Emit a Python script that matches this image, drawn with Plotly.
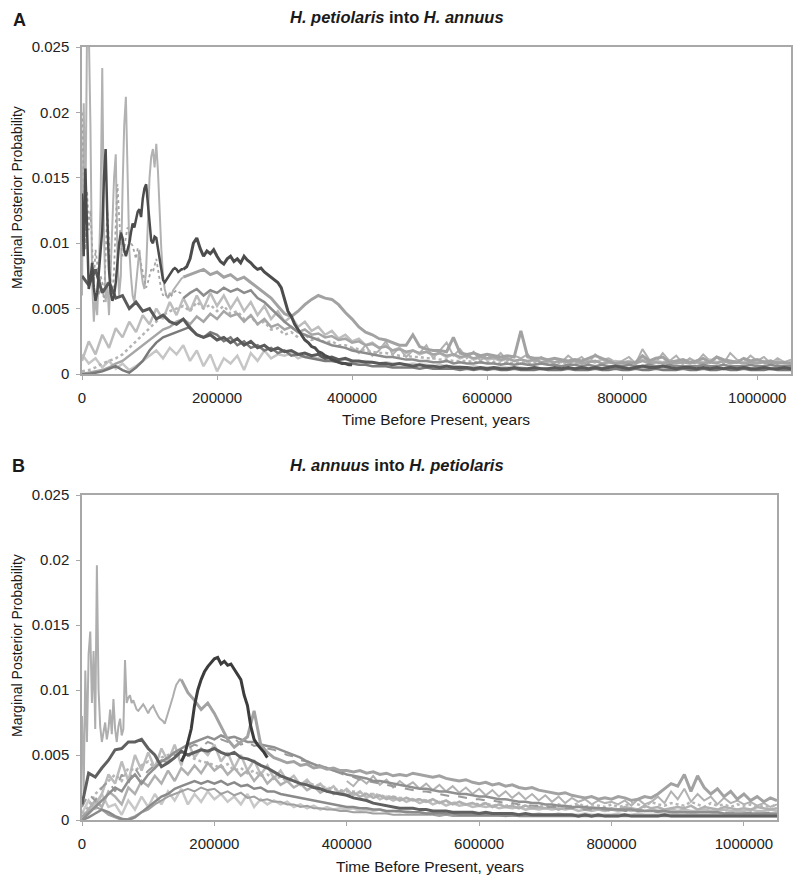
import plotly.graph_objects as go

# ---------------- x grids (years before present) ----------------
X_FINE = list(range(0, 150001, 2500))          # 61 points, early spiky section
X_COARSE = list(range(0, 1050001, 10000))      # 106 points, full range
X_HUMP_A = list(range(150000, 400001, 5000))   # 51 points
X_HUMP_B = list(range(150000, 280001, 5000))   # 27 points

X_TICKS = [0, 200000, 400000, 600000, 800000, 1000000]
X_TICK_TEXT = ["0", "200000", "400000", "600000", "800000", "1000000"]
Y_TICKS = [0, 0.005, 0.01, 0.015, 0.02, 0.025]
Y_TICK_TEXT = ["0", "0.005", "0.01", "0.015", "0.02", "0.025"]

N = None
# ---------------- Panel A: H. petiolaris into H. annuus (values x 1e-4) ----------------
A_SPIKE_LIGHT = [
    60, 207, 120, 265, 265, 190, 70, 40, 60, 45,
    80, 130, 234, 110, 55, 70, 45, 80, 110, 150,
    168, 90, 60, 75, 140, 190, 212, 160, 95, 75,
    60, 55, 70, 85, 95, 80, 70, 65, 80, 115,
    150, 166, 172, 158, 176, 155, 120, 95, 75, 65,
    60, 58, 62, 60, 64, 66, 68, 70, 72, 73,
    74]
A_SPIKE_MID = [
    200, 150, 95, 140, 110, 125, 90, 70, 95, 85,
    60, 75, 70, 55, 90, 125, 100, 70, 60, 80,
    115, 145, 120, 100, 90, 95, 105, 112, 108, 100,
    98, 92, 88, 96, 92, 84, 78, 72, 66, 70,
    76, 80, 78, 84, 88, 80, 70, 64, 60, 62,
    60, 58, 62, 60, 62, 63, 64, 63, 62, 62,
    62]
A_SPIKE_DARK = [
    138, 90, 157, 110, 65, 72, 85, 66, 56, 62,
    80, 98, 110, 150, 172, 120, 80, 62, 56, 60,
    70, 85, 100, 108, 104, 95, 90, 95, 100, 108,
    115, 112, 118, 124, 126, 120, 134, 142, 145, 130,
    112, 102, 100, 105, 104, 96, 88, 80, 72, 70,
    72, 74, 76, 78, 80, 81, 80, 78, 79, 80,
    80]
A_DARK_HUMP = [
    80, 82, 88, 100, 104, 96, 90, 94, 92, 95,
    90, 86, 84, 88, 90, 86, 88, 85, 90, 87,
    85, 82, 80, 81, 78, 76, 74, 72, 70, 66,
    56, 48, 44, 38, 34, 30, 26, 24, 21, 20,
    17, 16, 14, 13, 11, 10, 9, 8, 8, 7,
    7]
A_DARK_MAIN = [
    75, 68, 80, 62, 70, 58, 60, 50, 55, 48,
    50, 42, 45, 40, 38, 42, 35, 30, 28, 30,
    26, 28, 24, 27, 22, 25, 20, 22, 18, 20,
    17, 18, 15, 16, 14, 15, 12, 13, 11, 12,
    10, 10, 9, 9, 8, 8, 7, 8, 7, 6,
    7, 6, 6, 5, 6, 5, 5, 5, 4, 5,
    4, 5, 4, 4, 5, 4, 4, 5, 4, 4,
    5, 4, 5, 4, 5, 4, 5, 4, 5, 6,
    5, 4, 5, 6, 5, 5, 6, 5, 4, 5,
    5, 4, 5, 4, 5, 4, 5, 4, 5, 4,
    4, 5, 4, 4, 5, 4]
A_LIGHT_HUMP = [
    N, N, N, N, N, N, N, N, N, N,
    N, N, N, N, N, 74, 76, 78, 80, 76,
    78, 74, 76, 72, 74, 70, 66, 62, 58, 52,
    46, 44, 48, 53, 57, 60, 58, 57, 53, 47,
    42, 36, 32, 30, 27, 26, 24, 22, 22, 30,
    21, 19, 18, 18, 17, 28, 16, 15, 16, 14,
    15, 14, 13, 14, 13, 33, 13, 12, 12, 11,
    12, 11, 10, 11, 10, 12, 14, 12, 10, 8,
    9, 8, 9, 14, 10, 12, 13, 9, 10, 11,
    9, 10, 12, 9, 13, 11, 10, 9, 12, 10,
    11, 9, 10, 8, 9, 8]
A_MID = [
    N, N, N, N, N, N, N, N, N, N,
    N, N, N, N, N, 58, 62, 65, 60, 64,
    62, 66, 63, 65, 62, 64, 58, 55, 50, 45,
    40, 36, 32, 30, 28, 26, 24, 22, 21, 20,
    18, 17, 16, 15, 14, 13, 13, 12, 11, 11,
    10, 10, 9, 9, 10, 8, 9, 8, 8, 9,
    8, 8, 7, 8, 7, 8, 7, 7, 8, 7,
    7, 6, 7, 7, 6, 7, 6, 7, 6, 6,
    6, 7, 6, 6, 7, 6, 6, 7, 6, 6,
    6, 6, 7, 6, 6, 7, 6, 6, 6, 7,
    6, 6, 7, 6, 6, 6]
A_LIGHT_DOT = [
    2, 3, 5, 8, 10, 12, 15, 20, 25, 30,
    35, 40, 45, 48, 50, 52, 48, 55, 50, 53,
    48, 52, 46, 48, 42, 44, 38, 40, 34, 35,
    30, 32, 28, 30, 26, 27, 24, 25, 22, 22,
    20, 19, 18, 17, 16, 16, 15, 14, 14, 13,
    13, 12, 12, 11, 11, 10, 10, 10, 9, 9,
    9, 9, 8, 9, 8, 9, 8, 8, 9, 8,
    8, 9, 8, 8, 9, 10, 9, 8, 9, 8,
    8, 9, 8, 10, 9, 8, 9, 10, 9, 8,
    9, 8, 9, 10, 9, 8, 9, 9, 8, 9,
    9, 8, 9, 8, 9, 8]
A_BAND = [
    0, 1, 2, 3, 5, 8, 10, 14, 18, 22,
    26, 30, 34, 36, 40, 42, 38, 44, 40, 46,
    42, 48, 44, 46, 40, 45, 38, 42, 36, 38,
    34, 36, 32, 34, 30, 31, 28, 29, 26, 27,
    24, 25, 22, 23, 20, 21, 18, 19, 17, 18,
    16, 17, 15, 16, 14, 15, 13, 14, 12, 13,
    12, 13, 11, 12, 10, 11, 10, 11, 9, 10,
    9, 10, 9, 10, 8, 9, 10, 8, 9, 8,
    8, 9, 8, 10, 8, 9, 8, 9, 8, 9,
    8, 9, 8, 9, 8, 10, 8, 9, 8, 9,
    8, 9, 8, 9, 8, 8]
A_BAND2 = [
    10, 25, 15, 30, 20, 35, 28, 40, 32, 45,
    38, 50, 42, 55, 45, 58, 48, 60, 50, 62,
    52, 60, 50, 58, 48, 55, 45, 52, 42, 48,
    40, 44, 36, 40, 33, 36, 30, 33, 27, 30,
    25, 27, 22, 24, 20, 22, 18, 20, 16, 18,
    15, 17, 14, 16, 13, 15, 12, 14, 11, 13,
    11, 12, 10, 12, 10, 11, 9, 11, 9, 10,
    9, 10, 9, 10, 8, 10, 9, 11, 9, 10,
    9, 10, 9, 11, 9, 10, 9, 10, 9, 10,
    9, 10, 9, 11, 9, 10, 9, 10, 9, 10,
    9, 10, 9, 10, 9, 9]
A_TAIL = [
    N, N, N, N, N, N, N, N, N, N,
    N, N, N, N, N, N, N, N, N, N,
    N, N, N, N, N, N, N, N, N, N,
    N, N, N, N, N, N, N, N, N, N,
    20, 16, 22, 14, 18, 25, 15, 20, 13, 18,
    16, 22, 12, 18, 24, 14, 19, 12, 17, 10,
    15, 11, 16, 10, 14, 12, 15, 9, 13, 10,
    12, 9, 14, 10, 13, 8, 15, 11, 12, 9,
    10, 13, 8, 19, 11, 9, 16, 10, 14, 8,
    12, 9, 15, 10, 13, 8, 16, 11, 9, 14,
    10, 13, 8, 12, 9, 11]
A_MID_LOW = [
    0, 0, 1, 2, 4, 6, 3, 1, 5, 10,
    18, 24, 28, 30, 32, 34, 36, 30, 28, 32,
    30, 25, 28, 22, 25, 20, 22, 18, 20, 16,
    18, 14, 15, 13, 12, 11, 10, 10, 9, 8,
    8, 7, 7, 6, 6, 6, 5, 5, 5, 5,
    4, 5, 4, 4, 4, 4, 3, 4, 3, 4,
    3, 4, 3, 3, 4, 3, 3, 3, 4, 3,
    3, 3, 4, 3, 3, 3, 4, 3, 3, 4,
    3, 3, 4, 3, 3, 4, 3, 3, 3, 4,
    3, 3, 4, 3, 3, 4, 3, 3, 4, 3,
    3, 3, 4, 3, 3, 3]
A_LIGHT_LOW = [
    15, 8, 12, 5, 10, 4, 8, 3, 6, 10,
    14, 18, 12, 20, 15, 22, 10, 18, 6, 15,
    2, 12, 8, 14, 3, 16, 10, 18, 12, 15,
    14, 16, 12, 14, 13, 12, 12, 11, 10, 11,
    10, 9, 10, 9, 8, 9, 8, 8, 7, 8,
    7, 7, 6, 7, 6, 6, 6, 5, 6, 5,
    5, 5, 5, 5, 4, 5, 4, 5, 4, 4,
    4, 4, 5, 4, 4, 4, 5, 4, 4, 4,
    4, 4, 4, 5, 4, 4, 4, 4, 5, 4,
    4, 4, 5, 4, 4, 4, 4, 5, 4, 4,
    4, 4, 4, 5, 4, 4]

# ---------------- Panel B: H. annuus into H. petiolaris (values x 1e-4) ----------------
B_SPIKE_LIGHT = [
    80, 20, 115, 60, 128, 145, 90, 130, 70, 196,
    100, 72, 60, 68, 75, 62, 70, 85, 66, 93,
    70, 60, 72, 78, 65, 70, 123, 90, 94, 96,
    90, 92, 88, 85, 84, 86, 88, 89, 87, 84,
    82, 85, 87, 88, 85, 82, 80, 78, 77, 76,
    74, 78, 82, 86, 90, 95, 100, 104, 106, 108,
    108]
B_LIGHT_HUMP = [
    N, N, N, N, N, N, N, N, N, N,
    N, N, N, N, N, 108, 98, 92, 85, 90,
    82, 72, 62, 56, 60, 64, 84, 58, 52, 48,
    46, 44, 45, 42, 43, 40, 41, 39, 40, 38,
    38, 37, 38, 36, 37, 35, 36, 34, 35, 34,
    36, 35, 34, 33, 34, 32, 31, 30, 31, 29,
    28, 29, 27, 28, 26, 27, 25, 24, 25, 23,
    22, 21, 20, 21, 19, 18, 17, 18, 16, 17,
    16, 18, 17, 15, 16, 18, 17, 20, 24, 28,
    26, 35, 22, 34, 25, 20, 24, 18, 22, 16,
    20, 15, 18, 14, 17, 15]
B_DARK_HUMP = [
    45, 50, 60, 70, 88, 100, 108, 114, 118, 121,
    124, 125, 120, 122, 119, 120, 116, 112, 108, 96,
    88, 72, 62, 58, 55, 52, 48]
B_DARK_MAIN = [
    12, 36, 33, 40, 46, 54, 55, 60, 60, 62,
    55, 50, 41, 44, 48, 53, 50, 52, 54, 53,
    55, 52, 50, 52, 48, 47, 45, 42, 40, 37,
    34, 32, 30, 28, 27, 25, 24, 22, 21, 20,
    19, 17, 16, 15, 13, 12, 11, 10, 9, 9,
    9, 8, 8, 7, 7, 7, 6, 6, 6, 6,
    5, 6, 5, 5, 5, 5, 4, 5, 4, 4,
    4, 4, 4, 4, 4, 3, 4, 3, 4, 3,
    3, 3, 4, 3, 3, 3, 3, 3, 4, 3,
    3, 3, 3, 3, 3, 3, 3, 3, 3, 3,
    3, 3, 3, 3, 3, 3]
B_MID = [
    0, 5, 10, 15, 20, 25, 22, 30, 35, 28,
    35, 40, 45, 48, 52, 55, 58, 60, 62, 64,
    62, 65, 63, 64, 62, 60, 60, 58, 57, 56,
    54, 52, 50, 48, 45, 43, 41, 40, 38, 37,
    35, 34, 33, 32, 30, 30, 29, 28, 27, 26,
    25, 24, 24, 23, 22, 22, 21, 20, 20, 19,
    18, 18, 17, 16, 16, 15, 14, 14, 13, 13,
    12, 12, 11, 11, 10, 10, 10, 9, 9, 9,
    8, 8, 8, 8, 7, 7, 7, 7, 7, 6,
    6, 6, 6, 6, 6, 6, 6, 5, 5, 5,
    5, 5, 5, 5, 5, 5]
B_DASHED = [
    10, 20, 15, 25, 30, 22, 35, 28, 40, 32,
    38, 42, 46, 44, 50, 52, 55, 58, 56, 60,
    58, 62, 60, 63, 58, 60, 57, 58, 55, 54,
    52, 50, 49, 46, 45, 44, 42, 40, 38, 36,
    34, 33, 31, 30, 29, 28, 27, 26, 25, 24,
    23, 22, 22, 21, 20, 19, 18, 18, 17, 16,
    16, 15, 15, 14, 13, 13, 12, 12, 11, 11,
    10, 10, 10, 9, 9, 9, 8, 8, 8, 8,
    7, 8, 7, 7, 8, 7, 7, 6, 7, 6,
    6, 7, 6, 6, 7, 6, 6, 6, 5, 6,
    5, 6, 5, 5, 6, 5]
B_BAND = [
    2, 8, 15, 10, 22, 18, 12, 25, 20, 30,
    26, 34, 28, 38, 30, 40, 35, 42, 36, 44,
    38, 42, 35, 40, 34, 38, 30, 36, 28, 33,
    27, 30, 25, 28, 23, 26, 21, 24, 20, 22,
    19, 21, 18, 20, 17, 19, 16, 18, 15, 17,
    15, 16, 14, 16, 13, 15, 12, 14, 12, 13,
    11, 13, 10, 12, 10, 11, 9, 11, 9, 10,
    9, 10, 8, 10, 9, 11, 8, 10, 9, 8,
    9, 8, 10, 9, 8, 11, 9, 10, 8, 9,
    10, 9, 11, 8, 10, 9, 8, 10, 9, 8,
    9, 8, 10, 9, 8, 9]
B_BAND2 = [
    0, 5, 12, 20, 35, 28, 45, 30, 50, 38,
    52, 40, 55, 45, 58, 42, 60, 48, 55, 50,
    58, 45, 52, 40, 50, 38, 46, 35, 42, 32,
    38, 30, 34, 27, 31, 25, 28, 22, 26, 20,
    24, 19, 22, 17, 20, 16, 18, 15, 17, 14,
    16, 13, 15, 12, 14, 11, 13, 11, 12, 10,
    11, 10, 11, 9, 10, 9, 10, 8, 9, 8,
    9, 8, 9, 8, 9, 7, 8, 7, 8, 7,
    8, 7, 8, 7, 8, 7, 8, 7, 7, 8,
    7, 8, 7, 7, 8, 7, 7, 8, 7, 7,
    7, 8, 7, 7, 8, 7]
B_LOW_HUMP = [
    3, 6, 10, 8, 4, 2, 0, 1, 3, 6,
    8, 12, 15, 18, 20, 22, 24, 22, 25, 23,
    24, 20, 22, 19, 21, 17, 18, 15, 16, 14,
    14, 12, 12, 10, 11, 9, 9, 8, 8, 7,
    7, 6, 6, 6, 5, 5, 5, 4, 4, 4,
    4, 4, 4, 4, 3, 4, 3, 3, 3, 3,
    3, 3, 3, 3, 3, 3, 3, 3, 3, 3,
    3, 3, 3, 3, 3, 3, 3, 3, 3, 3,
    3, 3, 3, 3, 3, 3, 3, 3, 3, 3,
    3, 3, 3, 3, 3, 3, 3, 3, 3, 3,
    3, 3, 3, 3, 3, 3]
B_TAIL = [
    N, N, N, N, N, N, N, N, N, N,
    N, N, N, N, N, N, N, N, N, N,
    N, N, N, N, N, N, N, N, N, N,
    N, N, N, N, N, N, N, N, N, N,
    30, 26, 32, 28, 34, 27, 31, 25, 30, 26,
    29, 24, 28, 23, 27, 22, 26, 21, 25, 20,
    24, 19, 23, 18, 22, 17, 21, 16, 20, 15,
    19, 14, 18, 13, 17, 14, 16, 12, 15, 13,
    14, 12, 15, 11, 16, 12, 14, 18, 13, 22,
    16, 24, 14, 20, 15, 18, 12, 17, 13, 15,
    12, 14, 11, 13, 10, 12]
B_LIGHT = [
    5, 10, 20, 25, 30, 35, 30, 40, 38, 42,
    45, 40, 48, 50, 52, 48, 50, 47, 45, 44,
    42, 40, 43, 38, 40, 36, 38, 34, 35, 32,
    33, 30, 31, 28, 29, 27, 26, 25, 24, 23,
    22, 22, 21, 20, 20, 19, 18, 18, 17, 17,
    16, 16, 15, 15, 14, 14, 13, 14, 12, 13,
    12, 13, 11, 12, 11, 12, 10, 11, 10, 11,
    10, 11, 12, 10, 11, 13, 10, 12, 11, 10,
    12, 10, 11, 13, 12, 10, 14, 12, 11, 13,
    12, 11, 14, 12, 10, 13, 11, 12, 10, 12,
    11, 12, 10, 11, 10, 12]
B_MID_LOW = [
    0, 2, 5, 8, 6, 3, 1, 0, 2, 6,
    10, 14, 18, 20, 24, 26, 28, 30, 28, 30,
    28, 30, 27, 29, 26, 27, 24, 25, 22, 22,
    20, 19, 18, 17, 16, 15, 14, 13, 12, 11,
    10, 10, 9, 9, 8, 8, 7, 7, 7, 6,
    6, 6, 5, 5, 5, 5, 5, 4, 4, 4,
    4, 4, 4, 4, 3, 4, 3, 3, 3, 3,
    3, 3, 3, 3, 3, 3, 3, 3, 3, 3,
    3, 3, 3, 3, 3, 3, 3, 3, 3, 3,
    3, 3, 3, 3, 3, 3, 3, 3, 3, 3,
    3, 3, 3, 3, 3, 3]
B_LIGHT_LOW = [
    5, 15, 8, 20, 10, 12, 4, 15, 8, 18,
    10, 20, 12, 22, 15, 24, 12, 20, 14, 22,
    16, 20, 14, 18, 12, 20, 10, 16, 12, 15,
    12, 14, 10, 12, 9, 11, 8, 10, 8, 9,
    8, 9, 7, 8, 7, 8, 6, 7, 6, 7,
    6, 6, 5, 6, 5, 6, 5, 5, 5, 5,
    5, 5, 4, 5, 4, 5, 4, 4, 4, 5,
    4, 4, 5, 4, 4, 4, 5, 4, 4, 4,
    4, 5, 4, 4, 5, 4, 4, 4, 5, 4,
    4, 4, 5, 4, 4, 4, 5, 4, 4, 4,
    4, 4, 5, 4, 4, 4]


def to_prob(vals):
    return [None if v is None else v / 10000.0 for v in vals]


fig = go.Figure()

panel_a = [
    (A_LIGHT_LOW, X_COARSE, "#c6c6c6", 2.5, "solid"),
    (A_TAIL, X_COARSE, "#b0b0b0", 2.0, "solid"),
    (A_BAND2, X_COARSE, "#bdbdbd", 2.5, "solid"),
    (A_LIGHT_DOT, X_COARSE, "#b4b4b4", 2.5, "dot"),
    (A_BAND, X_COARSE, "#a6a6a6", 2.5, "solid"),
    (A_SPIKE_LIGHT, X_FINE, "#b2b2b2", 2.0, "solid"),
    (A_SPIKE_MID, X_FINE, "#a4a4a4", 1.8, "dot"),
    (A_LIGHT_HUMP, X_COARSE, "#a2a2a2", 3.0, "solid"),
    (A_MID, X_COARSE, "#8c8c8c", 2.5, "solid"),
    (A_MID_LOW, X_COARSE, "#7a7a7a", 2.5, "solid"),
    (A_DARK_MAIN, X_COARSE, "#5a5a5a", 3.0, "solid"),
    (A_SPIKE_DARK, X_FINE, "#4c4c4c", 2.5, "solid"),
    (A_DARK_HUMP, X_HUMP_A, "#4c4c4c", 3.0, "solid"),
]
panel_b = [
    (B_LIGHT_LOW, X_COARSE, "#c8c8c8", 2.5, "solid"),
    (B_TAIL, X_COARSE, "#b2b2b2", 2.0, "solid"),
    (B_BAND2, X_COARSE, "#bcbcbc", 2.5, "solid"),
    (B_LIGHT, X_COARSE, "#b6b6b6", 2.5, "dot"),
    (B_BAND, X_COARSE, "#b0b0b0", 2.5, "solid"),
    (B_LOW_HUMP, X_COARSE, "#a0a0a0", 2.0, "solid"),
    (B_MID_LOW, X_COARSE, "#8a8a8a", 2.5, "solid"),
    (B_DASHED, X_COARSE, "#9a9a9a", 2.0, "dash"),
    (B_MID, X_COARSE, "#909090", 2.5, "solid"),
    (B_SPIKE_LIGHT, X_FINE, "#aeaeae", 2.0, "solid"),
    (B_LIGHT_HUMP, X_COARSE, "#a2a2a2", 3.0, "solid"),
    (B_DARK_MAIN, X_COARSE, "#606060", 3.0, "solid"),
    (B_DARK_HUMP, X_HUMP_B, "#3c3c3c", 3.0, "solid"),
]

for vals, xs, col, w, dash in panel_a:
    fig.add_trace(go.Scatter(x=xs, y=to_prob(vals), mode="lines",
                             line=dict(color=col, width=w, dash=dash),
                             xaxis="x", yaxis="y", showlegend=False))
for vals, xs, col, w, dash in panel_b:
    fig.add_trace(go.Scatter(x=xs, y=to_prob(vals), mode="lines",
                             line=dict(color=col, width=w, dash=dash),
                             xaxis="x2", yaxis="y2", showlegend=False))

W, H = 800, 879
FONT = "Liberation Sans, Arial, Helvetica, sans-serif"


def xaxis_cfg(x0, x1, anchor):
    return dict(domain=[x0 / W, x1 / W], range=[0, 1050000], anchor=anchor,
                automargin=False,
                tickvals=X_TICKS, ticktext=X_TICK_TEXT, ticks="outside",
                ticklen=4, tickcolor="#a8a8a8", showline=True, mirror=True,
                linecolor="#a8a8a8", linewidth=1.5, showgrid=False, zeroline=False,
                tickfont=dict(family=FONT, size=15, color="#222"),
                ticklabelstandoff=5)


def yaxis_cfg(top, bottom, anchor):
    return dict(domain=[1 - bottom / H, 1 - top / H], range=[0, 0.025], anchor=anchor,
                automargin=False,
                tickvals=Y_TICKS, ticktext=Y_TICK_TEXT, ticks="outside",
                ticklen=4, tickcolor="#a8a8a8", showline=True, mirror=True,
                linecolor="#a8a8a8", linewidth=1.5, showgrid=False, zeroline=False,
                tickfont=dict(family=FONT, size=15, color="#222"),
                ticklabelstandoff=4)


fig.update_layout(
    template="none",
    width=W, height=H,
    margin=dict(l=0, r=0, t=0, b=0, pad=0),
    paper_bgcolor="white", plot_bgcolor="white",
    font=dict(family=FONT, color="#222"),
    xaxis=xaxis_cfg(82, 791, "y"),
    yaxis=yaxis_cfg(47, 374, "x"),
    xaxis2=xaxis_cfg(82, 777, "y2"),
    yaxis2=yaxis_cfg(495, 820, "x2"),
)


def ann(text, x, y, size, bold=False, angle=0, xanchor="center"):
    fig.add_annotation(text=f"<b>{text}</b>" if bold else text,
                       x=x / W, y=1 - y / H, xref="paper", yref="paper",
                       showarrow=False, textangle=angle, xanchor=xanchor,
                       yanchor="middle",
                       font=dict(family=FONT, size=size, color="#1a1a1a"))


ann("A", 19, 20, 18, bold=True)
ann("B", 18, 466, 18, bold=True)
ann("<i>H. petiolaris</i> into <i>H. annuus</i>", 397, 17, 16.5, bold=True)
ann("<i>H. annuus</i> into <i>H. petiolaris</i>", 397, 465, 16.5, bold=True)
ann("Time Before Present, years", 436, 419, 15.5)
ann("Time Before Present, years", 430, 866, 15.5)
ann("Marginal Posterior Probability", 17, 198, 14, angle=-90)
ann("Marginal Posterior Probability", 17, 646, 14, angle=-90)

fig.write_html("out.html",
               config={"displayModeBar": False},
               post_script="document.body.style.margin='0';"
                           "document.body.style.padding='0';")
